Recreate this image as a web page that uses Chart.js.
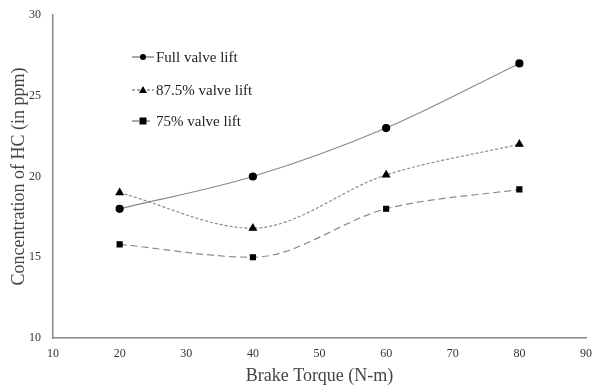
<!DOCTYPE html>
<html><head><meta charset="utf-8">
<script src="https://cdn.jsdelivr.net/npm/chart.js@4/dist/chart.umd.min.js"></script>
<style>html,body{margin:0;padding:0;background:#fff}#wrap{width:593px;height:387px}</style>
</head><body><div id="wrap"><canvas id="c" width="593" height="387"></canvas></div>
<script>
const torque = [20, 40, 60, 80];
const fullLift = [18, 20, 23, 27];
const lift875 = [19, 16.8, 20.1, 22];
const lift75 = [15.8, 15, 18, 19.2];
const seriesNames = ['Full valve lift', '87.5% valve lift', '75% valve lift'];
const xTicks = [10, 20, 30, 40, 50, 60, 70, 80, 90];
const yTicks = [10, 15, 20, 25, 30];

const FONT = '"Liberation Serif", "Times New Roman", serif';
const toPts = arr => torque.map((x, i) => ({x, y: arr[i]}));

const legendPlugin = {
  id: 'inLegend',
  afterDraw(chart) {
    const ctx = chart.ctx;
    const ds = chart.data.datasets;
    ctx.save();
    const x0 = 132, ys = [57, 90, 121];
    ds.forEach((d, i) => {
      const y = ys[i];
      ctx.strokeStyle = '#555';
      ctx.lineWidth = 1;
      ctx.setLineDash(d.borderDash || []);
      ctx.beginPath(); ctx.moveTo(x0, y); ctx.lineTo(x0 + 22, y); ctx.stroke();
      ctx.setLineDash([]);
      ctx.fillStyle = '#000';
      const cx = x0 + 11;
      if (d.pointStyle === 'circle') { ctx.beginPath(); ctx.arc(cx, y, 3, 0, Math.PI * 2); ctx.fill(); }
      else if (d.pointStyle === 'triangle') { ctx.beginPath(); ctx.moveTo(cx, y - 4); ctx.lineTo(cx + 4, y + 3); ctx.lineTo(cx - 4, y + 3); ctx.closePath(); ctx.fill(); }
      else { ctx.fillRect(cx - 3.5, y - 3.5, 7, 7); }
      ctx.font = '15px ' + FONT;
      ctx.fillStyle = '#222';
      ctx.textBaseline = 'middle';
      ctx.fillText(d.label, x0 + 24, y + 1);
    });
    ctx.restore();
  }
};

new Chart(document.getElementById('c'), {
  type: 'line',
  data: {
    datasets: [
      {label: seriesNames[0], data: toPts(fullLift), borderColor: '#8a8a8a', borderWidth: 1.2, pointStyle: 'circle', pointRadius: 3.5, pointBackgroundColor: '#000', pointBorderColor: '#000', tension: 0.4, cubicInterpolationMode: 'monotone'},
      {label: seriesNames[1], data: toPts(lift875), borderColor: '#8a8a8a', borderWidth: 1.2, borderDash: [3, 2], pointStyle: 'triangle', pointRadius: 4, pointBackgroundColor: '#000', pointBorderColor: '#000', tension: 0.4, cubicInterpolationMode: 'monotone'},
      {label: seriesNames[2], data: toPts(lift75), borderColor: '#8a8a8a', borderWidth: 1.2, borderDash: [7, 4], pointStyle: 'rect', pointRadius: 3.5, pointBackgroundColor: '#000', pointBorderColor: '#000', tension: 0.4, cubicInterpolationMode: 'monotone'}
    ]
  },
  options: {
    responsive: false,
    animation: false,
    devicePixelRatio: 1,
    layout: {padding: {left: 8, right: 7, top: 15, bottom: 0}},
    plugins: {legend: {display: false}, tooltip: {enabled: false}},
    scales: {
      x: {
        type: 'linear', min: 10, max: 90,
        afterBuildTicks: s => { s.ticks = xTicks.map(v => ({value: v})); },
        afterFit: s => { s.height = 49; s.paddingRight = 0; s.paddingLeft = 0; },
        grid: {display: false, drawTicks: false},
        border: {display: true, color: '#888', width: 1.5},
        ticks: {color: '#333', font: {family: FONT, size: 12}, padding: 9, maxRotation: 0},
        title: {display: true, text: 'Brake Torque (N-m)', color: '#444', font: {family: FONT, size: 18}, padding: {top: 0, bottom: 0}}
      },
      y: {
        min: 10, max: 30,
        afterBuildTicks: s => { s.ticks = yTicks.map(v => ({value: v})); },
        afterFit: s => { s.width = 45; s.paddingTop = 0; s.paddingBottom = 0; },
        grid: {display: false, drawTicks: false},
        border: {display: true, color: '#888', width: 1.5},
        ticks: {color: '#333', font: {family: FONT, size: 12}, padding: 12},
        title: {display: true, text: 'Concentration of HC (in ppm)', color: '#444', font: {family: FONT, size: 18}, padding: {top: 0, bottom: 0}}
      }
    }
  },
  plugins: [legendPlugin]
});
</script></body></html>
